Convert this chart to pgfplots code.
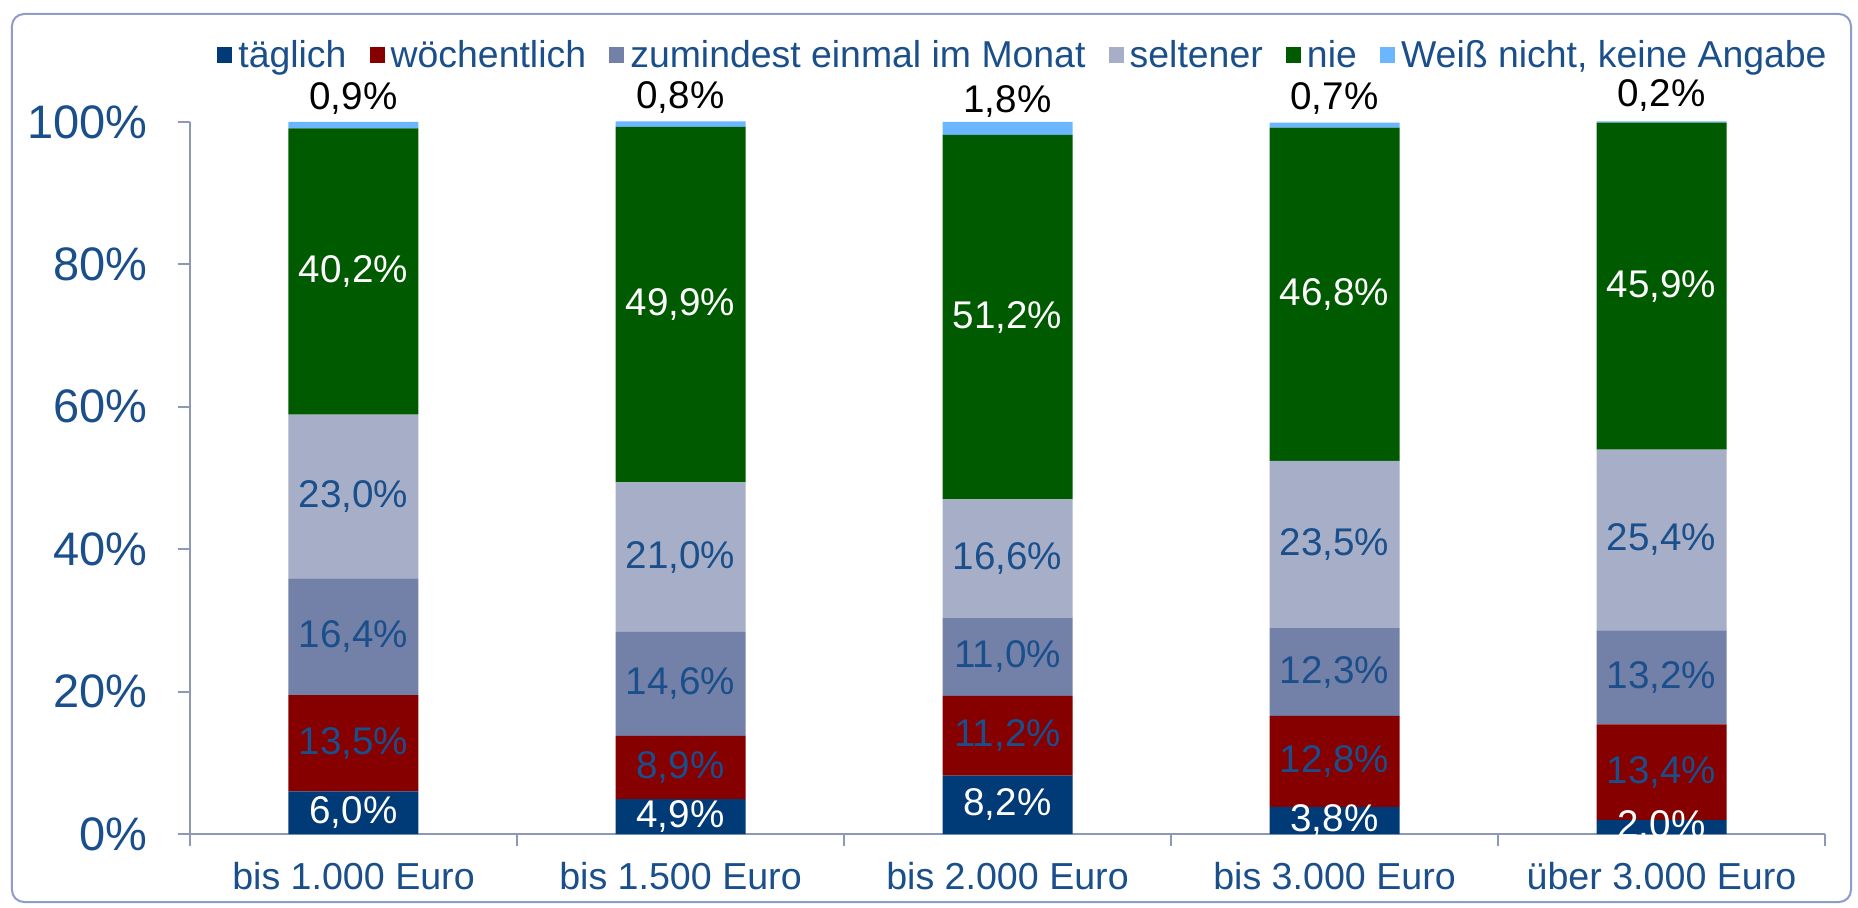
\documentclass[border=0pt]{standalone}
\usepackage{pgfplots}
\usepackage{pgfplotstable}
\pgfplotsset{compat=1.18}
\usepackage{fontspec}
\setmainfont{Liberation Sans}
\definecolor{ctag}{HTML}{003B77}
\definecolor{cwoch}{HTML}{870000}
\definecolor{cmon}{HTML}{7380A8}
\definecolor{cselt}{HTML}{A6AEC8}
\definecolor{cnie}{HTML}{005A00}
\definecolor{cweiss}{HTML}{6BB7FF}
\definecolor{ctxt}{HTML}{1A4F8B}
\definecolor{caxis}{HTML}{8C98B4}
\definecolor{cframe}{HTML}{8F9BC8}
\pgfplotstableread{
x t w m s n k
0 6.0 13.5 16.4 23.0 40.2 0.9
1 4.9 8.9 14.6 21.0 49.9 0.8
2 8.2 11.2 11.0 16.6 51.2 1.8
3 3.8 12.8 12.3 23.5 46.8 0.7
4 2.0 13.4 13.2 25.4 45.9 0.2
}\data
\pgfplotsset{
  numlab/.style={
    nodes near coords={\pgfmathprintnumber[fixed,fixed zerofill,precision=1,use comma,assume math mode=true]{\pgfplotspointmeta}\%},
    every node near coord/.append style={anchor=center, inner sep=0pt,
      font=\fontsize{19.3}{23}\selectfont, text=#1}
  },
  geom/.style={
    at={(0pt,0pt)}, anchor=south west,
    width=817.5pt, height=356pt, scale only axis,
    xmin=-0.5, xmax=4.5, ymin=0, ymax=100,
  }
}
\begin{document}
\begin{tikzpicture}
\path (-95pt,-36.5pt) rectangle (834pt,417pt);
\draw[cframe, line width=1pt, rounded corners=6pt] (-89pt,-34pt) rectangle (830.5pt,410pt);
\begin{axis}[
  geom,
  ybar stacked, bar width=65pt,
  clip=false,
  axis lines=left, axis line style={-, draw=caxis, line width=1pt},
  tick align=outside,
  ytick={0,20,...,100},
  yticklabels={0\%,20\%,40\%,60\%,80\%,100\%},
  yticklabel style={font=\fontsize{23.5}{28}\selectfont, text=ctxt, inner sep=0pt, xshift=-15pt},
  xtick={0,...,4},
  xticklabels={bis 1.000 Euro, bis 1.500 Euro, bis 2.000 Euro, bis 3.000 Euro, über 3.000 Euro},
  xticklabel style={font=\fontsize{18.8}{22}\selectfont, text=ctxt, inner sep=0pt, yshift=-8pt},
  minor xtick={-0.5,0.5,...,4.5},
  major x tick style={draw=none},
  minor x tick style={draw=caxis, line width=1pt},
  ytick style={draw=caxis, line width=1pt},
  major tick length=6pt, minor tick length=6pt,
  legend columns=-1,
  legend style={at={(1,1.094)}, anchor=east, draw=none, fill=none, xshift=7pt,
    font=\fontsize{18.7}{22}\selectfont, nodes={text=ctxt, inner xsep=3pt},
    /tikz/every even column/.append style={column sep=8.5pt}},
  legend image code/.code={\fill[#1,draw=none] (0pt,-3.8pt) rectangle (7.6pt,3.8pt);},
]
\addplot[fill=ctag, draw=none] table[x=x,y=t]{\data};
\addplot[fill=cwoch, draw=none] table[x=x,y=w]{\data};
\addplot[fill=cmon, draw=none] table[x=x,y=m]{\data};
\addplot[fill=cselt, draw=none] table[x=x,y=s]{\data};
\addplot[fill=cnie, draw=none] table[x=x,y=n]{\data};
\addplot[fill=cweiss, draw=none, numlab=black, point meta=\thisrow{k},
  every node near coord/.append style={yshift=13.5pt}] table[x=x,y=k]{\data};
\legend{täglich, wöchentlich, zumindest einmal im Monat, seltener, nie, {Weiß nicht, keine Angabe}}
\end{axis}
\begin{scope}
\clip (0pt,0pt) rectangle (817.5pt,380pt);
\begin{axis}[geom, hide axis, clip=false]
\addplot[draw=none, mark=none, numlab=white, point meta=\thisrow{t}]
  table[x=x, y expr=\thisrow{t}/2]{\data};
\addplot[draw=none, mark=none, numlab=ctxt, point meta=\thisrow{w}]
  table[x=x, y expr=\thisrow{t}+\thisrow{w}/2]{\data};
\addplot[draw=none, mark=none, numlab=ctxt, point meta=\thisrow{m}]
  table[x=x, y expr=\thisrow{t}+\thisrow{w}+\thisrow{m}/2]{\data};
\addplot[draw=none, mark=none, numlab=ctxt, point meta=\thisrow{s}]
  table[x=x, y expr=\thisrow{t}+\thisrow{w}+\thisrow{m}+\thisrow{s}/2]{\data};
\addplot[draw=none, mark=none, numlab=white, point meta=\thisrow{n}]
  table[x=x, y expr=\thisrow{t}+\thisrow{w}+\thisrow{m}+\thisrow{s}+\thisrow{n}/2]{\data};
\end{axis}
\end{scope}
\end{tikzpicture}
\end{document}
